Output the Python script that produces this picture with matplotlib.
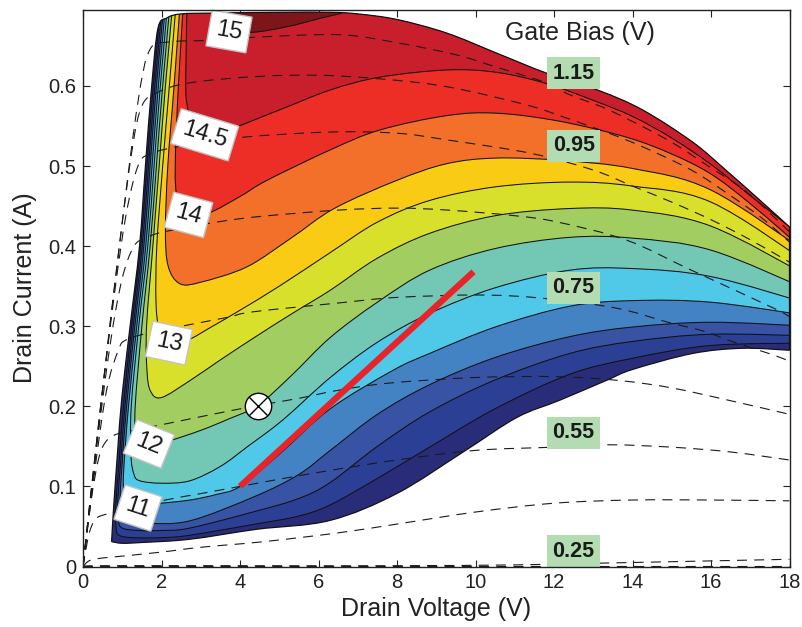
import numpy as np
import matplotlib
matplotlib.use("Agg")
import matplotlib.pyplot as plt
from matplotlib.path import Path
from matplotlib.patches import PathPatch

plt.rcParams["font.family"] = ["Liberation Sans", "DejaVu Sans"]

# ---------------------------------------------------------------- data
# gain contour levels (dB) and the fill colour of each band (lowest first)
gain_levels = [9.5, 10, 10.5, 11, 11.5, 12, 12.5, 13, 13.5, 14, 14.5, 15]
band_colors = ["#292D79", "#2B3F94", "#3853A3", "#4383C4", "#50C8E8", "#72C8B5",
               "#A2CD61", "#D9E02B", "#FACB15", "#F27029", "#EC2E27", "#C91F2D",
               "#7E1519"]

# outline of the measured region (Drain Voltage V, Drain Current A)
edge_left_top = [(0.73, 0.031), (0.75, 0.05), (0.81, 0.095), (0.89, 0.149), (0.99, 0.211),
                 (1.2, 0.3), (1.44, 0.4), (1.59, 0.5), (1.75, 0.6), (1.91, 0.672),
                 (2.14, 0.685), (2.5, 0.69), (3.3, 0.691), (5.0, 0.692), (6.3, 0.692),
                 (7.0, 0.69), (8.0, 0.683), (9.27, 0.666), (10.54, 0.641), (11.81, 0.616),
                 (13.16, 0.594), (14.26, 0.57), (15.53, 0.53), (16.4, 0.494),
                 (17.23, 0.458), (18.0, 0.424)]
edge_bottom = [(18.0, 0.27), (16.8, 0.2725), (15.53, 0.266), (14.0, 0.246), (13.34, 0.2325),
               (12.14, 0.2075), (11.05, 0.186), (9.67, 0.1425), (7.99, 0.091),
               (6.29, 0.0575), (4.43, 0.0465), (2.72, 0.034), (1.5, 0.03), (1.0, 0.029),
               (0.73, 0.031)]

# contour lines, each traced from the top of the knee region down and across
g9_5 = [(2.02, 0.72), (1.79, 0.6), (1.63, 0.5), (1.47, 0.4), (1.24, 0.3), (1.03, 0.2),
        (0.92, 0.13), (0.84, 0.08), (0.84, 0.05), (0.92, 0.039), (1.3, 0.036), (2.0, 0.036),
        (2.72, 0.039), (4.4, 0.053), (5.5, 0.063), (6.3, 0.077), (7.5, 0.11), (8.83, 0.149),
        (10.5, 0.197), (12.4, 0.24), (14.0, 0.26), (16.0, 0.276), (18.5, 0.279)]
g10 = [(2.06, 0.72), (1.83, 0.6), (1.67, 0.5), (1.51, 0.4), (1.28, 0.3), (1.07, 0.2),
       (0.96, 0.13), (0.89, 0.085), (0.9, 0.058), (1.0, 0.048), (1.4, 0.045), (2.0, 0.045),
       (2.72, 0.048), (4.4, 0.069), (5.5, 0.085), (6.3, 0.105), (7.5, 0.15), (8.83, 0.193),
       (10.5, 0.233), (12.4, 0.266), (14.0, 0.281), (16.0, 0.29), (18.5, 0.288)]
g10_5 = [(2.10, 0.72), (1.87, 0.6), (1.71, 0.5), (1.55, 0.4), (1.32, 0.3), (1.11, 0.2),
         (1.0, 0.13), (0.95, 0.09), (0.98, 0.066), (1.1, 0.057), (1.6, 0.054), (2.72, 0.057),
         (4.4, 0.088), (5.5, 0.115), (6.3, 0.145), (7.5, 0.19), (8.83, 0.227), (10.5, 0.261),
         (12.4, 0.287), (14.0, 0.299), (16.0, 0.305), (18.5, 0.3)]
g11 = [(2.14, 0.72), (1.92, 0.6), (1.76, 0.5), (1.6, 0.4), (1.37, 0.3), (1.16, 0.2),
       (1.05, 0.13), (1.03, 0.1), (1.1, 0.083), (1.4, 0.078), (1.96, 0.079), (2.72, 0.083),
       (3.4, 0.09), (4.0, 0.1), (5.0, 0.14), (6.3, 0.197), (7.9, 0.245), (8.83, 0.266),
       (10.5, 0.299), (12.4, 0.325), (14.0, 0.332), (16.0, 0.33), (18.5, 0.313)]
g11_5 = [(2.19, 0.72), (1.97, 0.6), (1.81, 0.5), (1.65, 0.4), (1.42, 0.3), (1.23, 0.2),
         (1.22, 0.14), (1.3, 0.115), (1.45, 0.107), (2.0, 0.104), (2.72, 0.107), (3.5, 0.125),
         (4.2, 0.15), (5.09, 0.183), (6.3, 0.236), (7.5, 0.28), (8.83, 0.316), (10.5, 0.348),
         (12.4, 0.37), (14.0, 0.372), (16.0, 0.362), (18.5, 0.328)]
g12 = [(2.25, 0.72), (2.03, 0.6), (1.87, 0.5), (1.71, 0.4), (1.5, 0.3), (1.33, 0.2),
       (1.35, 0.165), (1.45, 0.15), (1.68, 0.15), (2.21, 0.157), (3.0, 0.17), (3.7, 0.184),
       (4.45, 0.201), (5.3, 0.238), (6.3, 0.286), (7.5, 0.33), (8.83, 0.37), (10.5, 0.397),
       (12.4, 0.411), (14.0, 0.41), (16.0, 0.395), (18.5, 0.345)]
g12_5 = [(2.32, 0.72), (2.10, 0.6), (1.94, 0.5), (1.78, 0.4), (1.62, 0.3), (1.63, 0.245),
         (1.72, 0.219), (2.0, 0.211), (2.72, 0.232), (3.5, 0.258), (4.4, 0.287), (5.3, 0.315),
         (6.3, 0.345), (7.5, 0.385), (8.83, 0.416), (10.5, 0.438), (12.4, 0.447),
         (14.0, 0.445), (16.0, 0.425), (18.5, 0.362)]
g13 = [(2.40, 0.72), (2.2, 0.6), (2.03, 0.5), (1.88, 0.4), (1.86, 0.33), (1.95, 0.295),
       (2.2, 0.28), (2.64, 0.282), (3.3, 0.3), (4.0, 0.32), (5.0, 0.35), (6.3, 0.392),
       (7.5, 0.43), (8.83, 0.457), (10.5, 0.474), (12.4, 0.48), (14.0, 0.475),
       (16.0, 0.455), (18.5, 0.378)]
g13_5 = [(2.5, 0.72), (2.32, 0.6), (2.16, 0.5), (2.1, 0.42), (2.17, 0.375), (2.47, 0.353),
         (3.0, 0.355), (4.17, 0.374), (5.3, 0.41), (6.4, 0.447), (7.99, 0.482),
         (9.27, 0.503), (10.54, 0.51), (12.2, 0.507), (14.0, 0.497), (16.0, 0.47),
         (18.5, 0.39)]
g14 = [(2.58, 0.72), (2.43, 0.6), (2.35, 0.5), (2.4, 0.46), (2.6, 0.44), (3.18, 0.441),
       (4.0, 0.462), (4.68, 0.482), (6.29, 0.52), (7.56, 0.545), (9.27, 0.563),
       (10.54, 0.566), (12.14, 0.556), (13.85, 0.536), (15.0, 0.515), (16.0, 0.49),
       (17.0, 0.453), (18.5, 0.39)]
g14_5 = [(2.66, 0.72), (2.62, 0.62), (2.64, 0.58), (2.8, 0.556), (3.2, 0.545),
         (3.67, 0.545), (5.0, 0.57), (6.3, 0.595), (7.56, 0.611), (9.27, 0.62),
         (10.54, 0.617), (11.81, 0.603), (13.0, 0.582), (14.0, 0.562), (15.0, 0.535),
         (16.0, 0.502), (17.0, 0.463), (18.5, 0.405)]
g15 = [(3.3, 0.72), (3.5, 0.69), (3.75, 0.672), (4.3, 0.667), (5.2, 0.674), (6.0, 0.684),
       (6.8, 0.695), (7.5, 0.72)]
contour_lines = [g9_5, g10, g10_5, g11, g11_5, g12, g12_5, g13, g13_5, g14, g14_5, g15]

# contour label text, position and angle
clabel_text = ["15", "14.5", "14", "13", "12", "11"]
clabel_xy = [(3.72, 0.668), (3.1, 0.539), (2.69, 0.439), (2.19, 0.279), (1.68, 0.153),
             (1.40, 0.073)]
clabel_rot = [-10, -17, -15, -12, -22, -18]

# drain current vs drain voltage for each gate bias (V)
iv_025 = [(0.0, 0.0), (6.0, 0.0), (12.0, 0.0), (18.0, 0.0)]
iv_035 = [(0.0, 0.0), (0.5, 0.001), (4.0, 0.001), (8.0, 0.001), (11.0, 0.002), (13.0, 0.004),
          (15.0, 0.006), (18.0, 0.009)]
iv_045 = [(0.0, 0.0), (0.15, 0.007), (0.4, 0.01), (0.8, 0.012), (2.0, 0.018), (3.0, 0.024),
          (4.6, 0.031), (6.5, 0.042), (8.0, 0.053), (10.0, 0.068), (12.0, 0.079),
          (14.0, 0.083), (16.0, 0.083), (18.0, 0.082)]
iv_055 = [(0.0, 0.0), (0.15, 0.04), (0.3, 0.058), (0.5, 0.064), (1.0, 0.07), (2.1, 0.083),
          (3.0, 0.091), (4.0, 0.1), (5.0, 0.109), (6.3, 0.12), (8.0, 0.133), (10.0, 0.145),
          (12.0, 0.149), (13.4, 0.152), (15.0, 0.149), (16.5, 0.143), (18.0, 0.133)]
iv_065 = [(0.0, 0.0), (0.2, 0.08), (0.4, 0.135), (0.6, 0.157), (0.9, 0.166), (1.3, 0.17),
          (2.5, 0.182), (3.5, 0.192), (4.45, 0.201), (5.5, 0.21), (6.5, 0.22), (7.8, 0.229),
          (10.0, 0.236), (12.1, 0.237), (13.7, 0.232), (15.0, 0.223), (16.5, 0.207),
          (18.0, 0.19)]
iv_075 = [(0.0, 0.0), (0.3, 0.12), (0.6, 0.22), (0.9, 0.27), (1.1, 0.283), (1.7, 0.292),
          (2.4, 0.299), (3.67, 0.311), (4.33, 0.318), (6.5, 0.329), (8.0, 0.336),
          (10.1, 0.339), (11.7, 0.335), (13.6, 0.3225), (14.9, 0.305), (15.8, 0.294),
          (16.65, 0.279), (17.6, 0.264), (18.0, 0.256)]
iv_085 = [(0.0, 0.0), (0.35, 0.15), (0.7, 0.28), (1.0, 0.36), (1.3, 0.4), (1.6, 0.41),
          (2.03, 0.4175), (3.4, 0.43), (4.5, 0.437), (6.5, 0.445), (8.0, 0.4475),
          (9.3, 0.445), (11.0, 0.438), (12.1, 0.43), (13.85, 0.4075), (15.5, 0.37),
          (17.6, 0.3225), (18.0, 0.312)]
iv_095 = [(0.0, 0.0), (0.4, 0.18), (0.8, 0.34), (1.1, 0.44), (1.4, 0.5), (1.7, 0.515),
          (2.5, 0.525), (4.07, 0.536), (6.3, 0.5425), (8.0, 0.541), (9.3, 0.5325),
          (11.4, 0.516), (13.0, 0.495), (14.0, 0.475), (15.0, 0.455), (16.0, 0.433),
          (17.0, 0.408), (18.0, 0.38)]
iv_105 = [(0.0, 0.0), (0.45, 0.2), (0.9, 0.39), (1.25, 0.52), (1.5, 0.575), (1.9, 0.592),
          (2.72, 0.604), (4.5, 0.612), (6.3, 0.613), (8.4, 0.605), (9.7, 0.595),
          (11.4, 0.575), (12.2, 0.562), (13.4, 0.541), (14.26, 0.524), (15.5, 0.495),
          (16.5, 0.463), (17.3, 0.435), (18.0, 0.405)]
iv_115 = [(0.0, 0.0), (0.5, 0.22), (1.0, 0.43), (1.4, 0.58), (1.7, 0.645), (2.2, 0.655),
          (3.2, 0.657), (4.43, 0.661), (6.54, 0.664), (8.0, 0.654), (9.5, 0.639),
          (10.5, 0.624), (11.8, 0.604), (12.4, 0.589), (13.4, 0.57), (14.9, 0.5325),
          (15.96, 0.499), (16.9, 0.468), (18.0, 0.418)]
iv_curves = [iv_025, iv_035, iv_045, iv_055, iv_065, iv_075, iv_085, iv_095, iv_105, iv_115]

# gate bias tags
bias_text = ["1.15", "0.95", "0.75", "0.55", "0.25"]
bias_xy = [(12.5, 0.616), (12.5, 0.5255), (12.5, 0.348), (12.5, 0.167), (12.5, 0.019)]

# load line and the operating point marker
load_line_v = [4.0, 9.95]
load_line_i = [0.1, 0.368]
op_point = (4.45, 0.201)


# ---------------------------------------------------------------- helpers
def bezier_chain(pts):
    """Cubic Bezier segments with Catmull-Rom tangents through pts (no MOVETO)."""
    p = np.asarray(pts, float)
    n = len(p)
    verts, codes = [], []
    for i in range(n - 1):
        p0 = p[max(i - 1, 0)]
        p1, p2 = p[i], p[i + 1]
        p3 = p[min(i + 2, n - 1)]
        verts += [p1 + (p2 - p0) / 6.0, p2 - (p3 - p1) / 6.0, p2]
        codes += [Path.CURVE4] * 3
    return verts, codes


def open_path(pts):
    v, c = bezier_chain(pts)
    return Path([pts[0]] + v, [Path.MOVETO] + c)


def region_above(pts, top=0.9):
    v, c = bezier_chain(pts)
    verts = [pts[0]] + v + [(pts[-1][0], top), (pts[0][0], top), pts[0]]
    codes = [Path.MOVETO] + c + [Path.LINETO, Path.LINETO, Path.CLOSEPOLY]
    return Path(verts, codes)


def outline_path(upper, lower):
    v1, c1 = bezier_chain(upper)
    v2, c2 = bezier_chain(lower)
    verts = [upper[0]] + v1 + [lower[0]] + v2 + [upper[0]]
    codes = [Path.MOVETO] + c1 + [Path.LINETO] + c2 + [Path.CLOSEPOLY]
    return Path(verts, codes)


# ---------------------------------------------------------------- figure
fig = plt.figure(figsize=(8.02, 6.27), dpi=100)
ax = fig.add_axes([83 / 802, (627 - 566.5) / 627, (789.5 - 83) / 802, (566.5 - 9.5) / 627])

domain = PathPatch(outline_path(edge_left_top, edge_bottom), fc=band_colors[0],
                   ec="none", zorder=1)
ax.add_patch(domain)

for k, pts in enumerate(contour_lines):
    band = PathPatch(region_above(pts), fc=band_colors[k + 1], ec="none", zorder=2)
    ax.add_patch(band)
    band.set_clip_path(domain)
for pts in contour_lines:
    ln = PathPatch(open_path(pts), fc="none", ec="#111111", lw=0.75, zorder=3)
    ax.add_patch(ln)
    ln.set_clip_path(domain)

ax.add_patch(PathPatch(outline_path(edge_left_top, edge_bottom), fc="none",
                       ec="#111111", lw=0.9, zorder=3))

for curve in iv_curves:
    ax.add_patch(PathPatch(open_path(curve), fc="none", ec="#1a1a1a", lw=0.8,
                           linestyle=(0, (9, 6.5)), zorder=4))

ax.plot(load_line_v, load_line_i, color="#E8232A", lw=4.5, solid_capstyle="butt",
        zorder=5)
ax.plot([op_point[0]], [op_point[1]], marker="o", ms=19, mfc="white", mec="black",
        mew=1.0, zorder=6)
ax.plot([op_point[0]], [op_point[1]], marker="x", ms=13, mec="black", mew=1.0, zorder=7)

for s, (x, y), r in zip(clabel_text, clabel_xy, clabel_rot):
    ax.text(x, y, s, fontsize=17, rotation=r, rotation_mode="anchor",
            ha="center", va="center", zorder=8, color="#1a1a1a",
            bbox=dict(boxstyle="square,pad=0.3", fc="white", ec="#c4c4c4", lw=1.0))

for s, (x, y) in zip(bias_text, bias_xy):
    ax.text(x, y, s, fontsize=15.5, fontweight="bold", color="#1a1a1a",
            ha="center", va="center", zorder=8,
            bbox=dict(boxstyle="square,pad=0.25", fc="#B3DCB3", ec="none"))

ax.text(12.67, 0.666, "Gate Bias (V)", fontsize=18, ha="center", va="center",
        color="#222222", zorder=8)

ax.set_xlim(0, 18)
ax.set_ylim(0, 0.6955)
ax.set_xticks(np.arange(0, 19, 2))
ax.set_yticks([0, 0.1, 0.2, 0.3, 0.4, 0.5, 0.6])
ax.set_yticklabels(["0", "0.1", "0.2", "0.3", "0.4", "0.5", "0.6"])
ax.tick_params(direction="in", length=5, width=0.8, top=True, right=True,
               labelsize=14.5, colors="#222222", pad=5)
for sp in ax.spines.values():
    sp.set_linewidth(1.0)
    sp.set_color("#222222")
    sp.set_zorder(10)
ax.set_xlabel("Drain Voltage (V)", fontsize=18, color="#222222", labelpad=3)
ax.set_ylabel("Drain Current (A)", fontsize=18, color="#222222", labelpad=8)

fig.savefig("out.png", dpi=100)
